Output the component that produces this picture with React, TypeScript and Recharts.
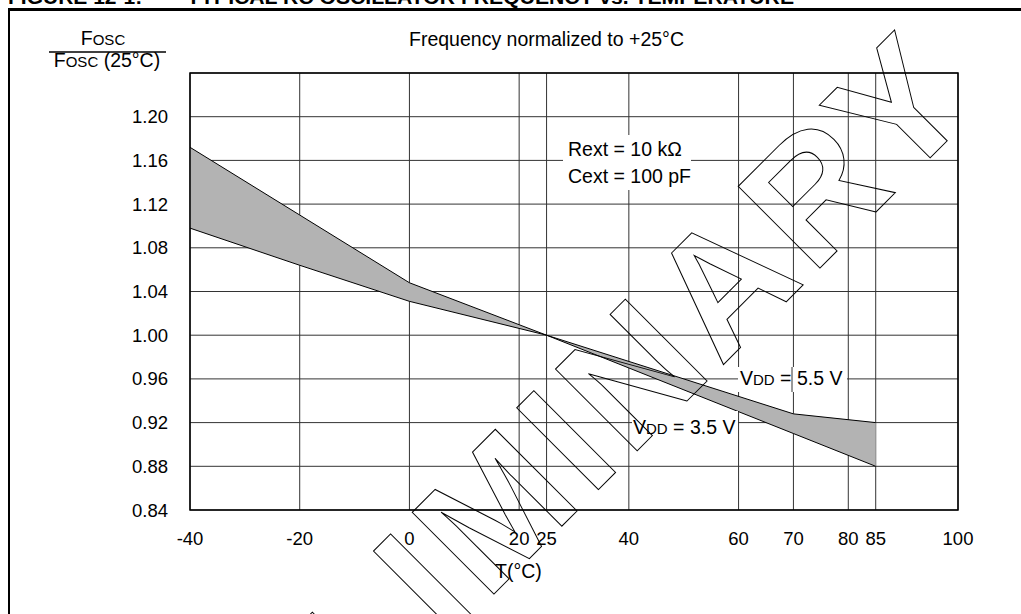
import React from 'react'
import {
  ComposedChart,
  Area,
  XAxis,
  YAxis,
  CartesianGrid,
  ReferenceArea
} from 'recharts'

// temperatures (°C) where the band corners were read
const temps = [-40, -20, 0, 25, 70, 85]
// normalized frequency, VDD = 3.5 V (steeper curve)
const vdd35 = [1.172, 1.11, 1.048, 1.0, 0.91, 0.88]
// normalized frequency, VDD = 5.5 V (flatter curve)
const vdd55 = [1.098, 1.064, 1.031, 1.0, 0.928, 0.92]

const xTicks = [-40, -20, 0, 20, 25, 40, 60, 70, 80, 85, 100]
const yTicks = [0.84, 0.88, 0.92, 0.96, 1.0, 1.04, 1.08, 1.12, 1.16, 1.2, 1.24]

const data = temps.map((t, i) => ({ t, band: [vdd55[i], vdd35[i]] }))

const FONT = '"Liberation Sans", Arial, sans-serif'

const Vdd: React.FC<{ x: number; y: number; volts: string }> = ({ x, y, volts }) => (
  <text x={x} y={y} fontSize={19.5} fontFamily={FONT} fill="#000">
    V<tspan fontSize={15}>DD</tspan> = {volts}
  </text>
)

const App: React.FC = () => {
  return (
    <div
      style={{
        position: 'absolute',
        left: 0,
        top: 0,
        width: 1021,
        height: 614,
        background: '#fff',
        fontFamily: FONT
      }}
    >
      <ComposedChart
        width={1021}
        height={614}
        data={data}
        margin={{ top: 73, right: 63, bottom: 0, left: 0 }}
      >
        <CartesianGrid stroke="#333" strokeWidth={1} />
        <XAxis
          dataKey="t"
          type="number"
          domain={[-40, 100]}
          ticks={xTicks}
          interval={0}
          height={104}
          axisLine={false}
          tickLine={false}
          tickMargin={16}
          tick={{ fontSize: 18.5, fill: '#000', fontFamily: FONT }}
        />
        <YAxis
          type="number"
          domain={[0.84, 1.24]}
          ticks={yTicks}
          interval={0}
          width={190}
          axisLine={false}
          tickLine={false}
          tickMargin={16}
          tick={{ fontSize: 18.5, fill: '#000', fontFamily: FONT }}
          tickFormatter={(v: number) => (v > 1.22 ? '' : v.toFixed(2))}
        />
        <Area
          type="linear"
          dataKey="band"
          stroke="#000"
          strokeWidth={1}
          fill="#b3b3b3"
          fillOpacity={1}
          dot={false}
          activeDot={false}
          isAnimationActive={false}
        />
        <ReferenceArea
          x1={-40}
          x2={100}
          y1={0.84}
          y2={1.24}
          fill="none"
          stroke="#000"
          strokeWidth={1.5}
        />
      </ComposedChart>

      <svg
        width={1021}
        height={614}
        style={{ position: 'absolute', left: 0, top: 0, pointerEvents: 'none' }}
      >
        <text x={8} y={4} fontSize={21} fontWeight="bold" fontFamily={FONT} fill="#000">
          FIGURE 12-1:
        </text>
        <text
          x={187}
          y={4}
          fontSize={21}
          fontWeight="bold"
          fontFamily={FONT}
          fill="#000"
          textLength={607}
          lengthAdjust="spacingAndGlyphs"
        >
          TYPICAL RC OSCILLATOR FREQUENCY vs. TEMPERATURE
        </text>
        <line x1={8} y1={9.5} x2={1021} y2={9.5} stroke="#000" strokeWidth={3} />
        <line x1={9} y1={8} x2={9} y2={614} stroke="#000" strokeWidth={2} />

        <text x={103} y={45} textAnchor="middle" fontSize={19.5} fontFamily={FONT} fill="#000">
          F<tspan fontSize={15}>OSC</tspan>
        </text>
        <line x1={49} y1={52} x2={166} y2={52} stroke="#000" strokeWidth={1.5} />
        <text x={107} y={67} textAnchor="middle" fontSize={19.5} fontFamily={FONT} fill="#000">
          F<tspan fontSize={15}>OSC</tspan> (25°C)
        </text>

        <text x={409} y={46} fontSize={19.5} fontFamily={FONT} fill="#000">
          Frequency normalized to +25°C
        </text>

        <rect x={563} y={135} width={128} height={55} fill="#fff" />
        <text x={568} y={156} fontSize={19.5} fontFamily={FONT} fill="#000">
          Rext = 10 kΩ
        </text>
        <text x={568} y={183} fontSize={19.5} fontFamily={FONT} fill="#000">
          Cext = 100 pF
        </text>

        <rect x={738} y={367} width={109} height={25} fill="#fff" />
        <line x1={792} y1={367} x2={792} y2={392} stroke="#333" strokeWidth={1} />
        <Vdd x={740} y={385} volts="5.5 V" />

        <rect x={632} y={411} width={106} height={25} fill="#fff" />
        <Vdd x={633} y={434} volts="3.5 V" />

        <text x={495} y={578} fontSize={19.5} fontFamily={FONT} fill="#000">
          T(°C)
        </text>

        <g transform="translate(984 104) rotate(-45)">
          <text
            x={0}
            y={0}
            textAnchor="end"
            fontSize={168}
            fontWeight="bold"
            fontFamily={FONT}
            fill="none"
            stroke="#000"
            strokeWidth={1}
            letterSpacing={8}
          >
            PRELIMINARY
          </text>
        </g>
      </svg>
    </div>
  )
}

export default App
